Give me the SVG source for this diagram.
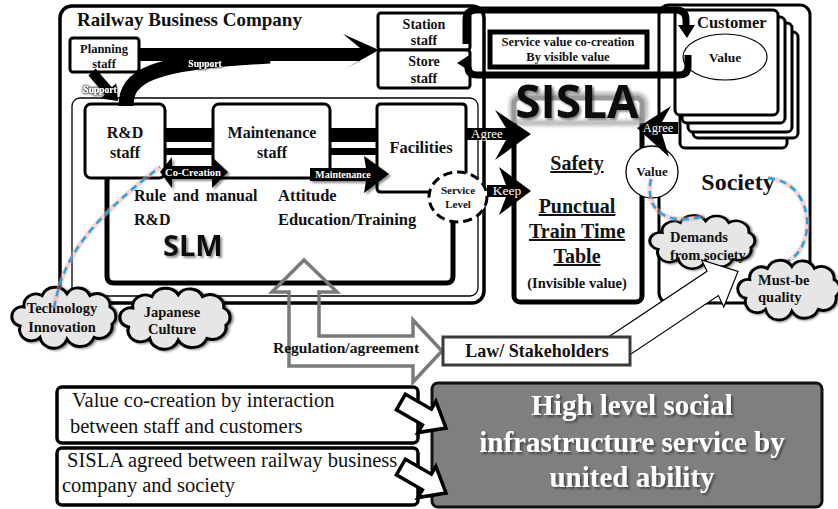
<svg xmlns="http://www.w3.org/2000/svg" xmlns:xlink="http://www.w3.org/1999/xlink" width="838" height="509" viewBox="0 0 838 509">
<defs>
<style>
text{font-family:"Liberation Serif","Times New Roman",serif;font-weight:bold;fill:#111}
.box{fill:#fff;stroke:#000;stroke-width:3}
.blk{fill:#000}
.wt{fill:#fff}
.reg{font-weight:normal}
.mid{text-anchor:middle}
.sans{font-family:"Open Sans","Liberation Sans",sans-serif;font-weight:700}
.cloud{fill:#e6e6e6;stroke:#000;stroke-width:3}
.dash{fill:none;stroke:#1ea5e8;stroke-width:2.4;stroke-dasharray:7 5}
.glow{fill:none;stroke:#f4a0a0;stroke-width:5;opacity:.45}
.under{text-decoration:underline}
.loop{fill:none;stroke:#000;stroke-width:7}
</style>
<path id="cloudShape" d="M12 20A12 12 0 0 1 30 8A14 14 0 0 1 55 6A13 13 0 0 1 78 8A13 13 0 0 1 98 20A11 11 0 0 1 100 38A13 13 0 0 1 82 52A15 15 0 0 1 55 54A14 14 0 0 1 28 52A12 12 0 0 1 8 40A10 10 0 0 1 12 20Z"/>
<filter id="drop" x="-10%" y="-10%" width="130%" height="140%">
<feGaussianBlur in="SourceAlpha" stdDeviation="1.2"/>
<feOffset dx="1.5" dy="1.5"/>
<feComponentTransfer><feFuncA type="linear" slope="0.45"/></feComponentTransfer>
<feMerge><feMergeNode/><feMergeNode in="SourceGraphic"/></feMerge>
</filter>
<filter id="halo" x="-20%" y="-50%" width="140%" height="200%">
<feMorphology in="SourceAlpha" operator="dilate" radius="1"/>
<feGaussianBlur stdDeviation="1.2"/>
<feComponentTransfer><feFuncA type="linear" slope="0.7"/></feComponentTransfer>
<feMerge><feMergeNode/><feMergeNode in="SourceGraphic"/></feMerge>
</filter>
<filter id="blur2" x="-20%" y="-40%" width="140%" height="180%"><feGaussianBlur stdDeviation="2"/></filter>
</defs>
<rect width="838" height="509" fill="#fff"/>

<!-- Railway business company frame -->
<g id="company">
<rect x="60" y="6" width="424" height="297" rx="12" class="box" style="stroke-width:3.5"/>
<rect x="72" y="98" width="406" height="198" rx="8" fill="none" stroke="#000" stroke-width="1.3"/>
<text x="77" y="26" font-size="19">Railway Business Company</text>
</g>

<!-- SLM frame -->
<g id="slm">
<path d="M107 178V276Q107 283 114 283H446Q453 283 453 276V222" fill="none" stroke="#000" stroke-width="5"/>
<rect x="165" y="128" width="48" height="14" class="blk"/>
<rect x="165" y="148" width="48" height="7" class="blk"/>
<rect x="330" y="128" width="47" height="14" class="blk"/>
<rect x="330" y="148" width="47" height="7" class="blk"/>
<text x="134" y="201" font-size="16" word-spacing="3">Rule and manual</text>
<text x="134" y="225" font-size="16">R&amp;D</text>
<text x="278" y="201" font-size="16.5">Attitude</text>
<text x="278" y="225" font-size="16.5">Education/Training</text>
<text x="163" y="256" font-size="29" class="sans" fill="#2a2a2a" filter="url(#drop)">SLM</text>
</g>

<g id="planning">
<rect x="70" y="38" width="69" height="34" rx="3" class="box"/>
<text x="104" y="53" font-size="12.5" class="mid">Planning</text>
<text x="104" y="68" font-size="12.5" class="mid">staff</text>
</g>

<g id="rd">
<rect x="85" y="104" width="80" height="74" rx="6" class="box"/>
<text x="125" y="138" font-size="16" class="mid">R&amp;D</text>
<text x="125" y="158" font-size="16" class="mid">staff</text>
</g>

<g id="maintenance">
<rect x="213" y="104" width="117" height="74" rx="6" class="box"/>
<text x="272" y="138" font-size="16" class="mid">Maintenance</text>
<text x="272" y="158" font-size="16" class="mid">staff</text>
</g>

<g id="facilities">
<path d="M430 192H381Q377 192 377 188V108Q377 104 381 104H462Q466 104 466 108V176" fill="#fff" stroke="#000" stroke-width="3"/>
<text x="421" y="153" font-size="16.5" class="mid">Facilities</text>
</g>

<g id="service-level">
<ellipse cx="458" cy="197" rx="29" ry="25" fill="#fff" stroke="#000" stroke-width="3" stroke-dasharray="9 5"/>
<text x="458" y="194" font-size="11" class="mid">Service</text>
<text x="458" y="208" font-size="11" class="mid">Level</text>
</g>

<g id="station">
<rect x="378" y="13" width="92" height="37" rx="3" class="box"/>
<text x="424" y="29" font-size="14" class="mid">Station</text>
<text x="424" y="45" font-size="14" class="mid">staff</text>
</g>
<g id="store">
<rect x="378" y="50" width="92" height="38" rx="3" class="box"/>
<text x="424" y="66" font-size="14" class="mid">Store</text>
<text x="424" y="83" font-size="14" class="mid">staff</text>
</g>

<!-- Society and customers -->
<g id="society">
<rect x="659" y="5" width="151" height="298" rx="10" class="box"/>
<rect x="680" y="40" width="107" height="108" rx="5" class="box"/>
<rect x="693" y="32" width="105" height="106" rx="5" class="box"/>
<rect x="688" y="23" width="104" height="109" rx="5" class="box"/>
<rect x="682" y="17" width="103" height="106" rx="5" class="box"/>
<text x="738" y="190" font-size="24" class="mid">Society</text>
</g>
<g id="customer">
<rect x="675" y="10" width="103" height="105" rx="5" class="box"/>
<text x="697" y="28" font-size="16.5">Customer</text>
<ellipse cx="725" cy="57" rx="42" ry="23" fill="#fff" stroke="#000" stroke-width="1.2"/>
<text x="725" y="62" font-size="13.5" class="mid">Value</text>
</g>

<g id="service-value">
<rect x="490" y="32" width="157" height="35" fill="#fff" stroke="#000" stroke-width="5"/>
<text x="568" y="46" font-size="12.5" class="mid">Service value co-creation</text>
<text x="568" y="61" font-size="12.5" class="mid">By visible value</text>
</g>

<!-- SISLA block -->
<g id="sisla">
<rect x="514" y="98" width="128" height="204" rx="6" fill="#fff" stroke="#000" stroke-width="5"/>
<rect x="506" y="90" width="144" height="33" fill="#fff" opacity=".6"/>
<rect x="512" y="95" width="133" height="28" rx="8" fill="none" stroke="#999" stroke-width="4" filter="url(#blur2)"/>
<text x="577" y="118" font-size="46" class="sans mid" fill="#000" filter="url(#drop)">SISLA</text>
<text x="577" y="170" font-size="20" class="mid under">Safety</text>
<text x="577" y="213" font-size="20" class="mid under">Punctual</text>
<text x="577" y="238" font-size="20" class="mid under">Train Time</text>
<text x="577" y="263" font-size="20" class="mid under">Table</text>
<text x="577" y="288" font-size="14.5" class="mid">(Invisible value)</text>
</g>

<g id="value">
<circle cx="652" cy="172" r="26" fill="#fff" stroke="#000" stroke-width="1.3"/>
<text x="652" y="176" font-size="13" class="mid">Value</text>
</g>

<g id="demands">
<use xlink:href="#cloudShape" class="cloud" transform="translate(650 216) scale(1.01 0.83)" filter="url(#drop)"/>
<text x="670" y="242" font-size="14.5">Demands</text>
<text x="670" y="260" font-size="14.5">from society</text>
</g>

<g id="technology">
<use xlink:href="#cloudShape" class="cloud" transform="translate(12 288) scale(1 0.95)" filter="url(#drop)"/>
<text x="62" y="313" font-size="14.5" class="mid">Technology</text>
<text x="62" y="332" font-size="14.5" class="mid">Innovation</text>
</g>
<g id="culture">
<use xlink:href="#cloudShape" class="cloud" transform="translate(120 289) scale(1.06 0.95)" filter="url(#drop)"/>
<text x="172" y="317" font-size="14.5" class="mid">Japanese</text>
<text x="172" y="334" font-size="14.5" class="mid">Culture</text>
</g>

<g id="note-cocreation">
<rect x="57" y="387" width="361" height="56" rx="5" class="box" style="stroke-width:3.5"/>
<text x="72" y="407" font-size="20.5" class="reg">Value co-creation by interaction</text>
<text x="70" y="433" font-size="20.5" class="reg">between staff and customers</text>
</g>
<g id="note-sisla">
<rect x="57" y="448" width="361" height="57" rx="5" class="box" style="stroke-width:3.5"/>
<text x="67" y="467" font-size="20.5" class="reg">SISLA agreed between railway business</text>
<text x="62" y="492" font-size="20.5" class="reg">company and society</text>
</g>

<g id="outcome">
<rect x="432" y="383" width="390" height="124" rx="6" fill="#7f7f7f" stroke="#111" stroke-width="3"/>
<g filter="url(#drop)">
<text x="632" y="415" font-size="29" class="mid wt">High level social</text>
<text x="632" y="452" font-size="29" class="mid wt">infrastructure service by</text>
<text x="632" y="487" font-size="29" class="mid wt">united ability</text>
</g>
</g>

<!-- connectors -->
<g id="connectors">
<!-- support from planning staff -->
<polygon points="95.6,68.5 111.9,87.4 116.2,83.3 118,101 100.4,98.5 104.7,94.4 88.4,75.5" class="blk"/>
<path d="M126 106C126 76 150 62 270 56" fill="none" stroke="#000" stroke-width="15"/>
<polygon points="139,48 360,48 343,34 379,50 343,70 360,61 139,61" class="blk"/>
<g filter="url(#halo)">
<text x="205" y="67" font-size="9.5" class="mid wt">Support</text>
<text x="100" y="93" font-size="9.5" class="mid wt">Support</text>
</g>

<!-- co-creation and maintenance -->
<polygon points="160,172 172,157 172,166 212,166 212,157 228,172 212,188 212,179 172,179 172,188" class="blk" filter="url(#drop)"/>
<text x="193" y="176" font-size="10.5" class="mid wt">Co-Creation</text>
<polygon points="310,168 366,168 364,156 389,174 364,193 366,181 310,181" class="blk" filter="url(#drop)"/>
<text x="343" y="178" font-size="10" class="mid wt">Maintenance</text>

<!-- agree / keep -->
<polygon points="466,128 506,128 495,110 531,134 495,160 506,140 466,140" class="blk"/>
<text x="487" y="138" font-size="13" class="mid wt reg">Agree</text>
<polygon points="487,185 506,185 499,167 531,191 499,215 506,197 487,197" class="blk"/>
<text x="507" y="195" font-size="13.5" class="mid wt reg">Keep</text>
<polygon points="637,128 671,106 662,122 678,122 678,134 662,134 669,157" class="blk"/>
<text x="658" y="132" font-size="12.5" class="mid wt reg">Agree</text>

<!-- co-creation loop between staff and customer -->
<path d="M466 44V20Q466 10 476 10H676Q686 10 686 20V27" class="loop"/>
<polygon points="678,25 695,25 687,38" class="blk"/>
<path d="M688 55V66Q688 75 679 75H477Q468 75 468 67" class="loop"/>
<polygon points="457,63 471,54 471,72" class="blk"/>

<!-- regulation / agreement -->
<path d="M304 260L337 292H319V336H413V320L442 351L413 382V366H289V292H272Z" fill="none" stroke="#7a7a7a" stroke-width="3.5" stroke-linejoin="miter"/>
<text x="273" y="353" font-size="15.5">Regulation/agreement</text>

<!-- law to society -->
<polygon points="604.3,339.8 707,271.2 701.6,259.9 738,271.5 723.8,306.9 718.4,295.6 615.7,364.2" fill="#fff" stroke="#000" stroke-width="1.2"/>

<!-- notes to outcome -->
<polygon points="405.4,394.2 431.4,409.2 435.9,401.4 446,428 417.9,432.6 422.4,424.8 396.4,409.8" fill="#fff" stroke="#000" stroke-width="3.5" stroke-linejoin="miter"/>
<polygon points="405.4,459.2 431.4,474.2 435.9,466.4 446,493 417.9,497.6 422.4,489.8 396.4,474.8" fill="#fff" stroke="#000" stroke-width="3.5" stroke-linejoin="miter"/>

<!-- influence lines -->
<path d="M54 308C62 265 80 228 160 167" class="glow"/>
<path d="M54 308C62 265 80 228 160 167" class="dash"/>
<path d="M651 179C645 205 660 228 705 216" class="glow"/>
<path d="M651 179C645 205 660 228 705 216" class="dash"/>
<path d="M768 178C815 182 818 248 786 262" class="glow"/>
<path d="M768 178C815 182 818 248 786 262" class="dash"/>
</g>

<!-- law box sits over the tail of the arrow leaving it -->
<g id="law">
<rect x="443" y="337" width="187" height="28" fill="#fff" stroke="#3a3a3a" stroke-width="3"/>
<text x="537" y="357" font-size="18" class="mid">Law/ Stakeholders</text>
</g>

<g id="must-be">
<use xlink:href="#cloudShape" class="cloud" transform="translate(738 261) scale(0.98 0.93)" filter="url(#drop)"/>
<text x="758" y="285" font-size="14.5">Must-be</text>
<text x="758" y="302" font-size="14.5">quality</text>
</g>
</svg>
